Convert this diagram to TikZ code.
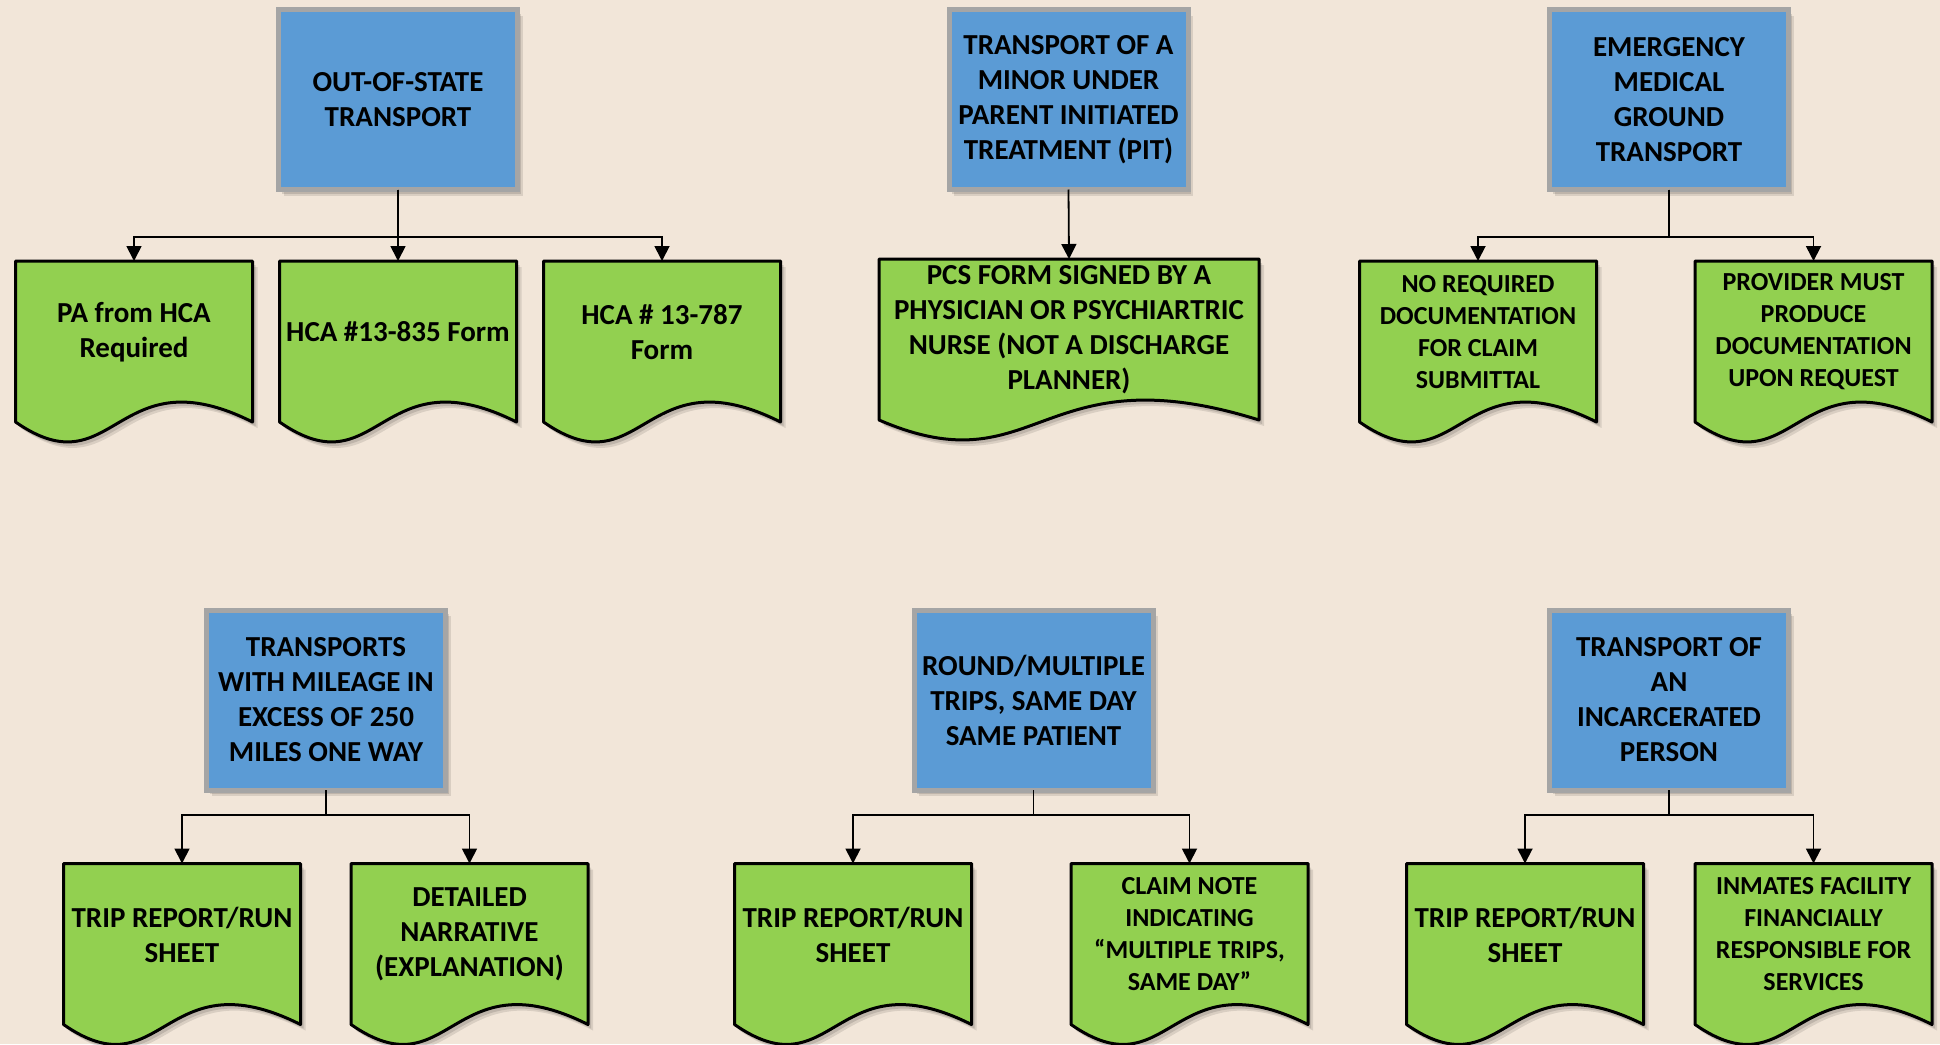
\documentclass[tikz,border=0pt]{standalone}
\usepackage{fontspec}
\setmainfont{Carlito}
\usetikzlibrary{arrows.meta,calc,shadows}
\definecolor{bg}{HTML}{F2E6D9}
\definecolor{boxblue}{HTML}{5B9BD5}
\definecolor{docgreen}{HTML}{92D050}
\definecolor{boxgray}{HTML}{A5A5A5}
\pgfdeclarelayer{back}
\pgfdeclarelayer{docs}
\pgfsetlayers{back,docs,main}
\tikzset{
  softshadow/.style={
    preaction={fill=black, opacity=0.10, transform canvas={shift={(5pt,-6pt)}}},
    preaction={fill=black, opacity=0.12, transform canvas={shift={(3pt,-4pt)}}}},
  topic/.style={draw=boxgray, line width=5pt, fill=boxblue, minimum width=239pt, minimum height=180pt,
    inner sep=0pt, outer sep=0pt, align=center, font=\bfseries\fontsize{29}{35}\selectfont, softshadow},
  doc/.style={minimum width=237pt, minimum height=142pt, inner sep=0pt, outer sep=0pt, align=center,
    font=\bfseries\fontsize{29}{35}\selectfont},
  docsmall/.style={doc, font=\bfseries\fontsize{26}{32}\selectfont},
  docline/.style={draw=black, line width=3pt, fill=docgreen, line join=round, softshadow},
  conn/.style={draw=black, line width=1.8pt, -{Triangle[length=15pt,width=15pt]}},
}
\newcommand\docoutline[1]{%
  \path[docline] (#1.north west) -- ($(#1.south west)+(0,19)$)
    .. controls ($(#1.south west)!0.42!(#1.south east)+(0,88)$) and ($(#1.south west)!0.42!(#1.south east)+(0,-50)$)
    .. ($(#1.south east)+(0,19)$) -- (#1.north east) -- cycle;}
\begin{document}
\begin{tikzpicture}[x=1pt,y=-1pt]
\useasboundingbox (0,0) rectangle (1940,1044);
\begin{pgfonlayer}{back}
  \fill[bg] (0,0) rectangle (1940,1044);
\end{pgfonlayer}

% topic boxes
\node[topic] (b1) at (398,99.5) {OUT-OF-STATE\\TRANSPORT};
\node[topic] (b2) at (1068.5,99.5) {TRANSPORT OF A\\MINOR UNDER\\PARENT INITIATED\\TREATMENT (PIT)};
\node[topic] (b3) at (1669,99.5) {EMERGENCY\\MEDICAL\\GROUND\\TRANSPORT};
\node[topic] (b4) at (326,700) {TRANSPORTS\\WITH MILEAGE IN\\EXCESS OF 250\\MILES ONE WAY};
\node[topic] (b5) at (1033.5,700) {ROUND/MULTIPLE\\TRIPS, SAME DAY\\SAME PATIENT};
\node[topic] (b6) at (1669,700) {TRANSPORT OF\\AN\\INCARCERATED\\PERSON};

% documents, top row
\node[doc] (d1) at (134,332) {PA from HCA\\Required};
\node[doc] (d2) at (398,332) {HCA \#13-835 Form};
\node[doc] (d3) at (662,332) {HCA \# 13-787\\Form};
\node[doc, minimum width=380pt] (d4) at (1069,330) {PCS FORM SIGNED BY A\\PHYSICIAN OR PSYCHIARTRIC\\NURSE (NOT A DISCHARGE\\PLANNER)};
\node[docsmall] (d5) at (1478,332) {NO REQUIRED\\DOCUMENTATION\\FOR CLAIM\\SUBMITTAL};
\node[docsmall] (d6) at (1813.5,332) {PROVIDER MUST\\PRODUCE\\DOCUMENTATION\\UPON REQUEST};

% documents, bottom row
\node[doc] (d7) at (182,934.5) {TRIP REPORT/RUN\\SHEET};
\node[doc] (d8) at (469.5,934.5) {DETAILED\\NARRATIVE\\(EXPLANATION)};
\node[doc] (d9) at (853,934.5) {TRIP REPORT/RUN\\SHEET};
\node[docsmall] (d10) at (1189.5,934.5) {CLAIM NOTE\\INDICATING\\“MULTIPLE TRIPS,\\SAME DAY”};
\node[doc] (d11) at (1525,934.5) {TRIP REPORT/RUN\\SHEET};
\node[docsmall] (d12) at (1813.5,934.5) {INMATES FACILITY\\FINANCIALLY\\RESPONSIBLE FOR\\SERVICES};

\begin{pgfonlayer}{docs}
  \foreach \d in {d1,d2,d3,d4,d5,d6,d7,d8,d9,d10,d11,d12} {\docoutline{\d}}
\end{pgfonlayer}

% connectors
\draw[conn] (b1.south) -- ++(0,47.5) -| (d1.north);
\draw[conn] (b1.south) -- (d2.north);
\draw[conn] (b1.south) -- ++(0,47.5) -| (d3.north);
\draw[conn] (b2.south) -- (d4.north);
\draw[conn] (b3.south) -- ++(0,47.5) -| (d5.north);
\draw[conn] (b3.south) -- ++(0,47.5) -| (d6.north);
\draw[conn] (b4.south) -- ++(0,25) -| (d7.north);
\draw[conn] (b4.south) -- ++(0,25) -| (d8.north);
\draw[conn] (b5.south) -- ++(0,25) -| (d9.north);
\draw[conn] (b5.south) -- ++(0,25) -| (d10.north);
\draw[conn] (b6.south) -- ++(0,25) -| (d11.north);
\draw[conn] (b6.south) -- ++(0,25) -| (d12.north);
\end{tikzpicture}
\end{document}
